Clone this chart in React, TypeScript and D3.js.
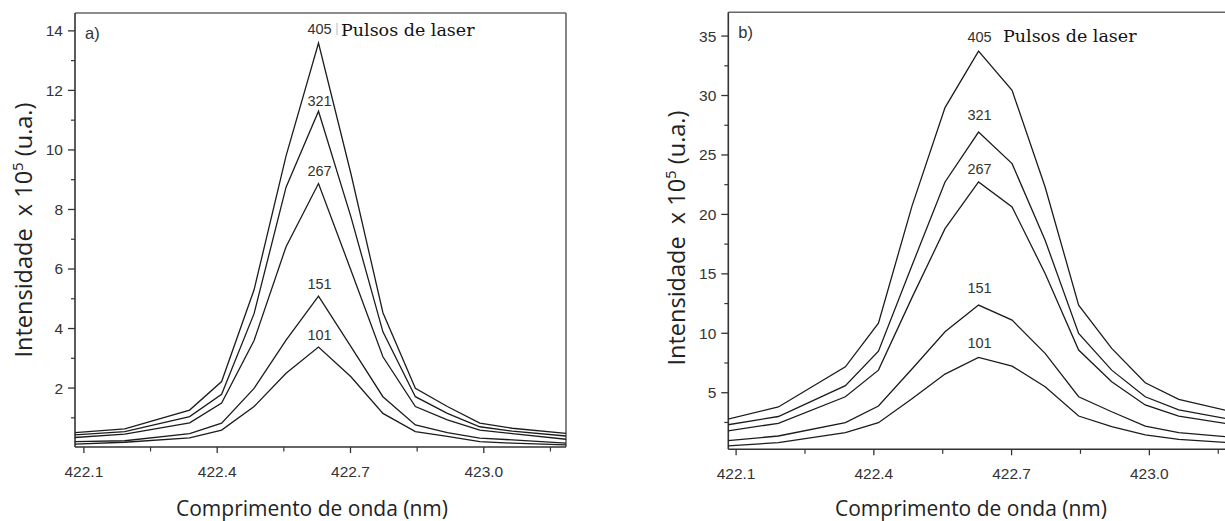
import React from "react";
import * as d3 from "d3";

// ---- data ----
const wavelengths = [422.08, 422.192, 422.338, 422.41, 422.483, 422.555, 422.628, 422.701, 422.773, 422.846, 422.918, 422.991, 423.064, 423.185];
const pulseLabels = ["405", "321", "267", "151", "101"];

// panel a) intensity x 10^5
const a405 = [0.5, 0.63, 1.26, 2.22, 5.3, 9.8, 13.59, 9.2, 4.53, 1.99, 1.38, 0.82, 0.65, 0.48];
const a321 = [0.43, 0.54, 1.04, 1.79, 4.5, 8.75, 11.3, 7.75, 3.89, 1.71, 1.15, 0.7, 0.55, 0.39];
const a267 = [0.34, 0.45, 0.83, 1.5, 3.6, 6.75, 8.87, 5.96, 3.05, 1.38, 0.93, 0.59, 0.47, 0.28];
const a151 = [0.2, 0.23, 0.47, 0.82, 1.99, 3.61, 5.09, 3.39, 1.71, 0.76, 0.5, 0.32, 0.26, 0.15];
const a101 = [0.12, 0.18, 0.33, 0.59, 1.38, 2.5, 3.38, 2.38, 1.15, 0.54, 0.38, 0.2, 0.15, 0.09];

// panel b)
const b405 = [2.76, 3.8, 7.18, 10.85, 20.7, 28.98, 33.74, 30.44, 22.3, 12.37, 8.73, 5.84, 4.44, 3.36];
const b321 = [2.29, 3.0, 5.6, 8.5, 15.7, 22.73, 26.93, 24.27, 17.83, 9.99, 6.9, 4.66, 3.55, 2.7];
const b267 = [1.78, 2.43, 4.66, 6.9, 13.0, 18.8, 22.73, 20.63, 15.03, 8.59, 5.93, 3.97, 3.04, 2.3];
const b151 = [0.97, 1.36, 2.48, 3.88, 7.0, 10.13, 12.37, 11.11, 8.31, 4.66, 3.4, 2.2, 1.64, 1.25];
const b101 = [0.52, 0.8, 1.64, 2.48, 4.5, 6.57, 7.97, 7.24, 5.5, 3.04, 2.14, 1.45, 1.08, 0.78];

const xTicks = [422.1, 422.4, 422.7, 423.0];
const xMinorTicks = [422.25, 422.55, 422.85, 423.15];
const yTicksA = [2, 4, 6, 8, 10, 12, 14];
const yMinorA = [1, 3, 5, 7, 9, 11, 13];
const yTicksB = [5, 10, 15, 20, 25, 30, 35];
const yMinorB = [2.5, 7.5, 12.5, 17.5, 22.5, 27.5, 32.5];

const xTitle = "Comprimento de onda (nm)";
const legendTitle = "Pulsos de laser";

// ---- layout / style ----
const SANS = "'Liberation Sans', Arial, sans-serif";
const TITLE = "'Open Sans', sans-serif";
const SERIF = "'DejaVu Serif', serif";
const TXT = "#333";

type PanelProps = {
  id: string;
  x0: number; x1: number; top: number; bottom: number;
  xDom: [number, number]; yDom: [number, number]; yRange: [number, number];
  series: number[][];
  yTicks: number[]; yMinor: number[];
  letter: string;
  labelOffsets: number[];
  yTitleX: number; yTitleY: number;
  xTitleX: number;
  legendX: number; legendY: number;
  legendBar?: boolean;
};

function Panel(p: PanelProps) {
  const x = d3.scaleLinear().domain(p.xDom).range([p.x0, p.x1]);
  const y = d3.scaleLinear().domain(p.yDom).range(p.yRange);
  const line = d3
    .line<number>()
    .x((_, i) => x(wavelengths[i]))
    .y((v) => y(v));
  const clipId = "clip-" + p.id;
  return (
    <g>
      <defs>
        <clipPath id={clipId}>
          <rect x={p.x0} y={p.top} width={p.x1 - p.x0} height={p.bottom - p.top} />
        </clipPath>
      </defs>
      {/* frame */}
      <line x1={p.x0} y1={p.top} x2={p.x1} y2={p.top} stroke="#666" strokeWidth={1.6} />
      <line x1={p.x1} y1={p.top} x2={p.x1} y2={p.bottom} stroke="#666" strokeWidth={1.6} />
      <line x1={p.x0} y1={p.top} x2={p.x0} y2={p.bottom} stroke="#333" strokeWidth={1.6} />
      <line x1={p.x0} y1={p.bottom} x2={p.x1} y2={p.bottom} stroke="#333" strokeWidth={1.6} />

      {/* series */}
      <g clipPath={`url(#${clipId})`}>
        {p.series.map((s, i) => (
          <path key={i} d={line(s) || ""} fill="none" stroke="#1c1c1c" strokeWidth={1.3} strokeLinejoin="miter" />
        ))}
      </g>

      {/* peak labels */}
      {p.series.map((s, i) => {
        const k = s.indexOf(Math.max(...s));
        return (
          <text key={"l" + i} x={x(wavelengths[k]) + 1} y={y(s[k]) - p.labelOffsets[i]} textAnchor="middle"
            fontFamily={SANS} fontSize={14.5} fill={TXT}>
            {pulseLabels[i]}
          </text>
        );
      })}

      {/* y ticks */}
      {p.yTicks.map((t) => (
        <g key={"yt" + t}>
          <line x1={p.x0 - 7} x2={p.x0} y1={y(t)} y2={y(t)} stroke="#333" strokeWidth={1.3} />
          <text x={p.x0 - 12} y={y(t) + 5.5} textAnchor="end" fontFamily={SANS} fontSize={15.5} fill={TXT}>
            {t}
          </text>
        </g>
      ))}
      {p.yMinor.map((t) => (
        <line key={"ym" + t} x1={p.x0 - 4} x2={p.x0} y1={y(t)} y2={y(t)} stroke="#333" strokeWidth={1.2} />
      ))}

      {/* x ticks */}
      {xTicks.map((t) => (
        <g key={"xt" + t}>
          <line x1={x(t)} x2={x(t)} y1={p.bottom} y2={p.bottom + 6} stroke="#333" strokeWidth={1.3} />
          <text x={x(t)} y={p.bottom + 29.5} textAnchor="middle" fontFamily={SANS} fontSize={15.5} fill={TXT}>
            {t.toFixed(1)}
          </text>
        </g>
      ))}
      {xMinorTicks.map((t) => (
        <line key={"xm" + t} x1={x(t)} x2={x(t)} y1={p.bottom} y2={p.bottom + 4.5} stroke="#333" strokeWidth={1.2} />
      ))}

      {/* panel letter */}
      <text x={p.x0 + 10} y={p.top + 26} fontFamily={SANS} fontSize={16.5} fill={TXT}>
        {p.letter}
      </text>

      {/* legend title */}
      {p.legendBar && (
        <line x1={p.legendX - 4} x2={p.legendX - 4} y1={p.legendY - 13} y2={p.legendY - 1} stroke="#bbb" strokeWidth={1} />
      )}
      <text x={p.legendX} y={p.legendY} fontFamily={SERIF} fontSize={17.5} fill="#111">
        {legendTitle}
      </text>

      {/* axis titles */}
      <text x={p.xTitleX} y={516} textAnchor="middle" fontFamily={TITLE} fontSize={21} fill="#222">
        {xTitle}
      </text>
      <text transform={`translate(${p.yTitleX},${p.yTitleY}) rotate(-90)`} textAnchor="middle"
        fontFamily={TITLE} fontSize={23.5} fill="#222" xmlSpace="preserve">
        <tspan>{"Intensidade  x 10"}</tspan>
        <tspan dy={-9} fontSize={15}>5</tspan>
        <tspan dy={9}>{" (u.a.)"}</tspan>
      </text>
    </g>
  );
}

export default function App() {
  return (
    <div style={{ position: "absolute", left: 0, top: 0 }}>
      <svg width={1225} height={521} style={{ display: "block", background: "#fff" }} overflow="hidden">
        <rect width={1225} height={521} fill="#fff" />
        <Panel
          id="a"
          x0={75} x1={566} top={13} bottom={447}
          xDom={[422.08, 423.185]} yDom={[0, 14.58]} yRange={[447.6, 13.6]}
          series={[a405, a321, a267, a151, a101]}
          yTicks={yTicksA} yMinor={yMinorA}
          letter="a)"
          labelOffsets={[9.5, 5, 7.5, 7.5, 6.5]}
          yTitleX={32} yTitleY={230}
          xTitleX={312}
          legendX={341} legendY={36}
          legendBar
        />
        <Panel
          id="b"
          x0={728.3} x1={1234.3} top={12.3} bottom={449.3}
          xDom={[422.083, 423.185]} yDom={[0.25, 37]} yRange={[449.2, 12.3]}
          series={[b405, b321, b267, b151, b101]}
          yTicks={yTicksB} yMinor={yMinorB}
          letter="b)"
          labelOffsets={[9, 12.4, 7.7, 11.7, 9]}
          yTitleX={685} yTitleY={238}
          xTitleX={971}
          legendX={1003} legendY={42}
        />
      </svg>
    </div>
  );
}
